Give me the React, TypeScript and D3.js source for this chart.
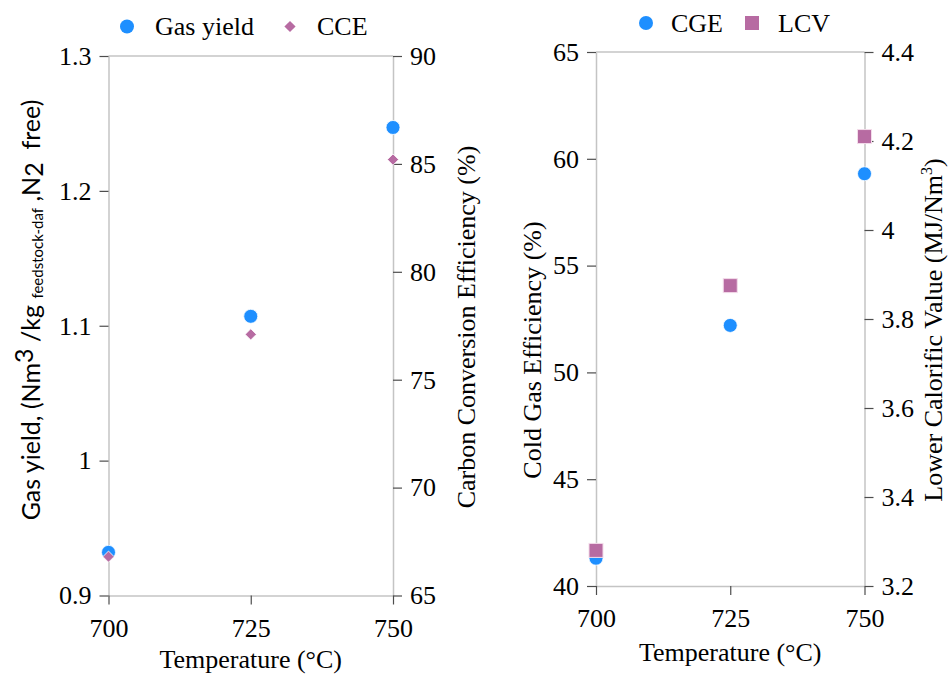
import React, { useEffect, useRef } from "react";
import * as d3 from "d3";

// temperatures (°C)
const temps = [700, 725, 750];
// left panel
const gasYield = [0.932, 1.107, 1.247];
const cce = [66.8, 77.1, 85.2];
// right panel
const cge = [41.3, 52.2, 59.3];
const lcv = [3.28, 3.875, 4.21];

const xTicks = [700, 725, 750];
const gasTicks = [0.9, 1, 1.1, 1.2, 1.3];
const cceTicks = [65, 70, 75, 80, 85, 90];
const cgeTicks = [40, 45, 50, 55, 60, 65];
const lcvTicks = [3.2, 3.4, 3.6, 3.8, 4, 4.2, 4.4];

const BLUE = "#1e8fff";
const PURPLE = "#b76ba2";
const FRAME = "#c4c4c4";
const SERIF = "Liberation Serif, Tinos, Times New Roman, DejaVu Serif, serif";

const fmt = (d: d3.NumberValue) => String(+(+d).toFixed(1));

type AxisSpec = {
  scale: d3.ScaleLinear<number, number>;
  orient: "left" | "right" | "bottom";
  ticks: number[];
  tx: number;
  ty: number;
};

function Axis({ scale, orient, ticks, tx, ty }: AxisSpec) {
  const ref = useRef<SVGGElement>(null);
  useEffect(() => {
    const ax =
      orient === "left" ? d3.axisLeft(scale) :
      orient === "right" ? d3.axisRight(scale) : d3.axisBottom(scale);
    ax.tickValues(ticks).tickFormat(fmt).tickSizeOuter(0).tickSizeInner(9).tickPadding(orient === "bottom" ? 14 : 8);
    const g = d3.select(ref.current!);
    g.call(ax as any);
    g.attr("font-family", SERIF).attr("font-size", 26);
    g.select(".domain").attr("stroke", FRAME).attr("stroke-width", 1.5);
    g.selectAll(".tick line").attr("stroke", "#4d4d4d").attr("stroke-width", 1.2);
    g.selectAll(".tick text").attr("fill", "#000");
  }, [scale, orient, ticks]);
  return <g ref={ref} transform={`translate(${tx},${ty})`} />;
}

const diamond = d3.symbol().type(d3.symbolDiamond2).size(80)();

export default function App() {
  // left panel scales
  const xL = d3.scaleLinear().domain([700, 750]).range([108.5, 393]);
  const yGas = d3.scaleLinear().domain([0.9, 1.3]).range([595.5, 56]);
  const yCce = d3.scaleLinear().domain([65, 90]).range([595.5, 56]);
  // right panel scales
  const xR = d3.scaleLinear().domain([700, 750]).range([596, 864.5]);
  const yCge = d3.scaleLinear().domain([40, 65]).range([586, 52]);
  const yLcv = d3.scaleLinear().domain([3.2, 4.4]).range([586, 52]);

  return (
    <svg width={948} height={675} fontFamily={SERIF} style={{ position: "absolute", left: 0, top: 0, background: "#fff" }}>
      {/* ---------- left panel ---------- */}
      <line x1={xL.range()[0]} x2={xL.range()[1]} y1={yGas(1.3)} y2={yGas(1.3)} stroke={FRAME} strokeWidth={1.5} />
      <Axis scale={yGas} orient="left" ticks={gasTicks} tx={xL(700)} ty={0} />
      <Axis scale={yCce} orient="right" ticks={cceTicks} tx={xL(750)} ty={0} />
      <Axis scale={xL} orient="bottom" ticks={xTicks} tx={0} ty={yGas(0.9)} />

      {temps.map((t, i) => (
        <circle key={"g" + i} cx={xL(t)} cy={yGas(gasYield[i])} r={7} fill={BLUE} stroke="#fff" strokeWidth={0.8} />
      ))}
      {temps.map((t, i) => (
        <path key={"c" + i} d={diamond!} transform={`translate(${xL(t)},${yCce(cce[i])})`} fill={PURPLE} stroke="#fff" strokeWidth={0.8} />
      ))}

      <text
        transform="translate(40,310) rotate(-90)"
        textAnchor="middle"
        fontFamily="Lato, Open Sans, sans-serif"
        fontSize={25}
        style={{ whiteSpace: "pre" }}
      >
        Gas yield, (Nm<tspan dy={-7}>3</tspan>
        <tspan dy={7}> /kg </tspan>
        <tspan fontSize={15} dy={3}>feedstock-daf</tspan>
        <tspan dy={-3}> ,N</tspan>
        <tspan dy={3}>2</tspan>
        <tspan dy={-3}>  free)</tspan>
      </text>
      <text transform="translate(475,327) rotate(-90)" textAnchor="middle" fontSize={26}>
        Carbon Conversion Efficiency (%)
      </text>
      <text x={(xL(700) + xL(750)) / 2} y={668} textAnchor="middle" fontSize={26}>
        Temperature (°C)
      </text>

      {/* legend left */}
      <circle cx={127} cy={26.5} r={7} fill={BLUE} />
      <text x={155} y={35} fontSize={26}>Gas yield</text>
      <path d={diamond!} transform="translate(290,26.5)" fill={PURPLE} />
      <text x={317} y={35} fontSize={26}>CCE</text>

      {/* ---------- right panel ---------- */}
      <line x1={xR.range()[0]} x2={xR.range()[1]} y1={yCge(65)} y2={yCge(65)} stroke={FRAME} strokeWidth={1.5} />
      <Axis scale={yCge} orient="left" ticks={cgeTicks} tx={xR(700)} ty={0} />
      <Axis scale={yLcv} orient="right" ticks={lcvTicks} tx={xR(750)} ty={0} />
      <Axis scale={xR} orient="bottom" ticks={xTicks} tx={0} ty={yCge(40)} />

      {temps.map((t, i) => (
        <circle key={"e" + i} cx={xR(t)} cy={yCge(cge[i])} r={7} fill={BLUE} stroke="#fff" strokeWidth={0.8} />
      ))}
      {temps.map((t, i) => (
        <rect key={"l" + i} x={xR(t) - 7} y={yLcv(lcv[i]) - 7} width={14} height={14} fill={PURPLE} stroke="#f3dcea" strokeWidth={1} />
      ))}

      <text transform="translate(541,350) rotate(-90)" textAnchor="middle" fontSize={26}>
        Cold Gas Efficiency (%)
      </text>
      <text transform="translate(942,330) rotate(-90)" textAnchor="middle" fontSize={26}>
        Lower Calorific Value (MJ/Nm<tspan fontSize={16} dy={-10}>3</tspan><tspan dy={10}>)</tspan>
      </text>
      <text x={(xR(700) + xR(750)) / 2} y={661} textAnchor="middle" fontSize={26}>
        Temperature (°C)
      </text>

      {/* legend right */}
      <circle cx={646} cy={23} r={7} fill={BLUE} />
      <text x={671} y={32} fontSize={26}>CGE</text>
      <rect x={745} y={16} width={14} height={14} fill={PURPLE} />
      <text x={778} y={32} fontSize={26}>LCV</text>
    </svg>
  );
}
